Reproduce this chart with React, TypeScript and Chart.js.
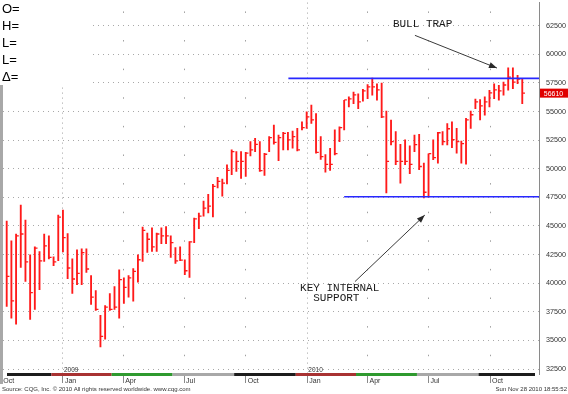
import React, { useEffect, useRef } from 'react';
import { Chart, registerables } from 'chart.js';

Chart.register(...registerables);

const FONT = '"Liberation Sans", Arial, sans-serif';
const MONO = '"Liberation Mono", "DejaVu Sans Mono", monospace';

// weekly bars, bar index 0 = week of this date
const ANCHOR = '2008-10-09';

const highs = [
  45430, 43700, 44300, 46820, 45520, 42480, 43170, 42770, 44300, 44130,
  42310, 45950, 46390, 44330, 42130, 42910, 43000, 43000, 40660, 39360,
  37190, 38050, 39100, 39700, 41180, 40480, 40660, 41270, 42480, 44910,
  44390, 44850, 44390, 44850, 44940, 44130, 43110, 43170, 42050, 43630,
  45690, 46130, 47170, 47770, 48640, 49250, 49100, 50350, 51650, 51500,
  51500, 51440, 52370, 52660, 52370, 51360, 52810, 53820, 52950, 53180,
  53180, 53300, 53530, 54110, 54980, 55560, 54830, 52810, 51250, 51790,
  53410, 53670, 55990, 56280, 56710, 56560, 56950, 57350, 57930, 57430,
  57490, 55040, 54260, 53240, 52140, 52520, 52000, 52950, 53010, 50490,
  51310, 52520, 53180, 53240, 53940, 54110, 53530, 52430, 54400, 55040,
  56080, 56040, 56280, 56860, 57430, 57290, 57580, 58820, 58820, 58160,
  57870,
];

const lows = [
  37970, 36950, 36410, 41380, 40160, 36840, 37710, 39440, 41900, 42130,
  41530, 41960, 42740, 40400, 39100, 39880, 39880, 40940, 38140, 37620,
  34440, 35100, 37620, 37710, 36950, 38230, 38780, 38430, 40080, 41900,
  42680, 42770, 42770, 43460, 43460, 42250, 41730, 41960, 40740, 40510,
  43550, 44760, 45860, 46150, 45800, 48320, 47600, 48670, 49480, 49770,
  49160, 49340, 51130, 51500, 49770, 49420, 51500, 52140, 50700, 51650,
  51650, 51790, 51570, 53390, 53530, 53960, 51360, 50810, 49710, 49860,
  51220, 52370, 53390, 55410, 55700, 55260, 55910, 56130, 56430, 55990,
  54460, 47890, 52090, 50350, 48750, 50350, 49570, 51500, 49920, 47450,
  47510, 50790, 50490, 52090, 52090, 51850, 51360, 50490, 50400, 53530,
  55260, 54260, 54690, 55410, 56130, 55990, 56430, 56860, 57000, 57430,
  55700,
];

const closes = [
  40600, 38460, 44130, 44300, 41870, 39180, 43060, 41960, 43260, 42250,
  41870, 45780, 43980, 41330, 40370, 40860, 42680, 41240, 38780, 37710,
  35360, 37910, 37710, 37910, 40310, 39640, 40460, 41030, 42050, 44620,
  43840, 43170, 44300, 44130, 44130, 43550, 41960, 42020, 41090, 43610,
  45630, 45860, 46560, 46730, 48470, 48900, 48750, 49860, 51500, 50640,
  50640, 51360, 51650, 52140, 49830, 51270, 52720, 52310, 52720, 53090,
  52520, 52810, 51650, 53590, 54540, 54280, 51440, 51070, 50380, 50380,
  51330, 53590, 56020, 56100, 56450, 55840, 56800, 57150, 57150, 56890,
  54540, 50640, 52370, 50640, 50640, 50640, 50380, 52110, 50200, 47950,
  51330, 50980, 53150, 52370, 53500, 52550, 52370, 52200, 54280, 54720,
  55840, 55500, 55840, 56630, 56890, 56800, 57320, 58010, 57580, 57840,
  56610,
];

const priceTicks = [32500, 35000, 37500, 40000, 42500, 45000, 47500, 50000, 52500, 55000, 57500, 60000, 62500];
const quarterLabels = ['Oct', 'Jan', 'Apr', 'Jul', 'Oct', 'Jan', 'Apr', 'Jul', 'Oct'];
const quarterDates = ['2008-10-01', '2009-01-01', '2009-04-01', '2009-07-01', '2009-10-01', '2010-01-01', '2010-04-01', '2010-07-01', '2010-10-01'];
const yearLabels = ['2009', '2010'];
const yearDates = ['2009-01-01', '2010-01-01'];
const infoLabels = ['O=', 'H=', 'L=', 'L=', '\u0394='];

const resistanceLevel = 57900;
const resistanceFromWeek = 60.1;
const supportLevel = 47550;
const supportFromWeek = 72.0;
const lastPrice = 56610;

// annotation anchors in (week, price)
const noteTexts = ['BULL TRAP', 'KEY INTERNAL', 'SUPPORT'];
const noteWeeks = [82.4, 62.6, 65.4];
const notePrices = [62610, 39570, 38660];
const arrowFromWeeks = [87.1, 74.3];
const arrowFromPrices = [61660, 40140];
const arrowToWeeks = [104.6, 89.2];
const arrowToPrices = [58800, 45950];

const SOURCE_TEXT = 'Source: CQG, Inc. \u00A9 2010 All rights reserved worldwide. www.cqg.com';
const STAMP_TEXT = 'Sun Nov 28 2010 18:55:52';

const X_MIN = -0.79;
const X_MAX = 113.57;
const Y_MIN = 32066;
const Y_MAX = 64522;
const STRIP_SHIFT = 2.47;

const weekOf = (d: string) => (Date.parse(d) - Date.parse(ANCHOR)) / (7 * 86400000);

export default function App() {
  const ref = useRef<HTMLCanvasElement>(null);

  useEffect(() => {
    const canvas = ref.current as HTMLCanvasElement;
    const quarterWeeks = quarterDates.map(weekOf);
    const yearWeeks = yearDates.map(weekOf);
    const isYearTick = (i: number) => quarterLabels[i] === 'Jan';

    const drawArrow = (ctx: CanvasRenderingContext2D, x1: number, y1: number, x2: number, y2: number) => {
      ctx.save();
      ctx.strokeStyle = '#3a3a3a';
      ctx.fillStyle = '#2a2a2a';
      ctx.lineWidth = 1;
      ctx.beginPath();
      ctx.moveTo(x1, y1);
      ctx.lineTo(x2, y2);
      ctx.stroke();
      const a = Math.atan2(y2 - y1, x2 - x1);
      const L = 8;
      const W = 3;
      const c = Math.cos(a);
      const s = Math.sin(a);
      ctx.beginPath();
      ctx.moveTo(x2, y2);
      ctx.lineTo(x2 - L * c + W * s, y2 - L * s - W * c);
      ctx.lineTo(x2 - L * c - W * s, y2 - L * s + W * c);
      ctx.closePath();
      ctx.fill();
      ctx.restore();
    };

    const decor = {
      id: 'decor',
      beforeDatasetsDraw(chart: any) {
        const ctx = chart.ctx as CanvasRenderingContext2D;
        ctx.save();
        ctx.fillStyle = '#ffffff';
        ctx.fillRect(0, 0, 90, 85);
        ctx.restore();
      },
      afterDraw(chart: any) {
        const ctx = chart.ctx as CanvasRenderingContext2D;
        const xs = chart.scales.x;
        const ys = chart.scales.y;
        const area = chart.chartArea;
        ctx.save();

        // info labels
        ctx.fillStyle = '#000';
        ctx.font = `13px ${FONT}`;
        ctx.textBaseline = 'middle';
        ctx.textAlign = 'left';
        infoLabels.forEach((t, i) => ctx.fillText(t, 2, 9 + i * 17));

        // left frame
        ctx.fillStyle = '#a8a8a8';
        ctx.fillRect(0, 85, 3, area.bottom + 10 - 85);

        // quarter colour strip
        const stripColors: Record<string, string> = { Oct: '#1c1c1c', Jan: '#a83232', Apr: '#2f9a2f', Jul: '#a8a8a8' };
        quarterWeeks.forEach((w, i) => {
          const s = Math.max(xs.getPixelForValue(w - STRIP_SHIFT), area.left + 4);
          const eW = i + 1 < quarterWeeks.length ? quarterWeeks[i + 1] - STRIP_SHIFT : X_MAX;
          const e = Math.min(xs.getPixelForValue(eW), area.right - 4);
          if (e > s) {
            ctx.fillStyle = stripColors[quarterLabels[i]];
            ctx.fillRect(s, area.bottom - 1, e - s, 3);
          }
        });

        // year labels
        ctx.fillStyle = '#333';
        ctx.font = `6.5px ${FONT}`;
        ctx.textBaseline = 'bottom';
        yearWeeks.forEach((w, i) => ctx.fillText(yearLabels[i], xs.getPixelForValue(w) + 1, area.bottom - 1));

        // annotations
        ctx.fillStyle = '#1a1a1a';
        ctx.font = `11px ${MONO}`;
        ctx.textBaseline = 'middle';
        noteTexts.forEach((t, i) => ctx.fillText(t, xs.getPixelForValue(noteWeeks[i]), ys.getPixelForValue(notePrices[i])));
        arrowFromWeeks.forEach((w, i) => {
          drawArrow(
            ctx,
            xs.getPixelForValue(w),
            ys.getPixelForValue(arrowFromPrices[i]),
            xs.getPixelForValue(arrowToWeeks[i]),
            ys.getPixelForValue(arrowToPrices[i])
          );
        });

        // last price box
        const py = ys.getPixelForValue(lastPrice);
        ctx.fillStyle = '#e00000';
        ctx.fillRect(area.right + 1, py - 4.5, 567 - area.right, 9);
        ctx.fillStyle = '#ffffff';
        ctx.font = `7px ${FONT}`;
        ctx.textAlign = 'center';
        ctx.textBaseline = 'middle';
        ctx.fillText(String(lastPrice), (area.right + 568) / 2, py + 0.5);

        // footer
        ctx.fillStyle = '#333';
        ctx.font = `6px ${FONT}`;
        ctx.textAlign = 'left';
        ctx.fillText(SOURCE_TEXT, 2, 389);
        ctx.textAlign = 'right';
        ctx.fillText(STAMP_TEXT, 567, 389);
        ctx.restore();
      },
    };

    const yPeriod = (chart: any) => {
      const ys = chart.scales.y;
      return Math.abs(ys.getPixelForValue(priceTicks[0]) - ys.getPixelForValue(priceTicks[1]));
    };

    const chart = new Chart(canvas, {
      type: 'bar',
      data: {
        datasets: [
          {
            type: 'bar',
            data: highs.map((h, i) => ({ x: i, y: [lows[i], h] })) as any,
            backgroundColor: '#ff1a1a',
            barThickness: 1.2,
            borderWidth: 0,
            grouped: false,
            order: 3,
          } as any,
          {
            type: 'scatter',
            data: closes.map((c, i) => ({ x: i + 0.3, y: c })),
            pointStyle: 'line',
            pointRadius: 1.3,
            pointBorderWidth: 1.3,
            pointBorderColor: '#ff1a1a',
            borderColor: '#ff1a1a',
            pointHoverRadius: 0,
            order: 2,
          } as any,
          {
            type: 'line',
            data: [
              { x: resistanceFromWeek, y: resistanceLevel },
              { x: X_MAX, y: resistanceLevel },
            ],
            borderColor: '#2828ff',
            borderWidth: 1.6,
            pointRadius: 0,
            fill: false,
            order: 1,
          } as any,
          {
            type: 'line',
            data: [
              { x: supportFromWeek, y: supportLevel },
              { x: X_MAX, y: supportLevel },
            ],
            borderColor: '#2828ff',
            borderWidth: 1.6,
            pointRadius: 0,
            fill: false,
            order: 1,
          } as any,
        ],
      },
      options: {
        animation: false,
        responsive: false,
        events: [],
        layout: { padding: { left: 3, top: 0, right: 0, bottom: 0 } },
        plugins: { legend: { display: false }, tooltip: { enabled: false } },
        scales: {
          x: {
            type: 'linear',
            min: X_MIN,
            max: X_MAX,
            offset: false,
            afterBuildTicks: (s: any) => {
              s.ticks = quarterWeeks.map((w) => ({ value: w }));
            },
            afterFit: (s: any) => {
              s.height = 20;
              s.paddingLeft = 0;
              s.paddingRight = 0;
            },
            ticks: {
              autoSkip: false,
              maxRotation: 0,
              minRotation: 0,
              align: 'start',
              padding: -6,
              color: '#333',
              font: { size: 7, family: FONT },
              callback: (_v: any, i: number) => ' ' + quarterLabels[i],
            },
            grid: {
              offset: false,
              color: '#a0a0a0',
              lineWidth: 1,
              drawTicks: true,
              tickLength: 9,
              tickColor: '#8a8a8a',
              tickWidth: 1,
              tickBorderDash: [],
            },
            border: {
              display: false,
              dash: (c: any) => {
                if (c.type !== 'tick') return [];
                if (isYearTick(c.index)) return [1, 4];
                const p = yPeriod(c.chart);
                return [1.5, p - 1.5];
              },
              dashOffset: (c: any) => {
                if (c.type !== 'tick' || isYearTick(c.index)) return 0;
                const p = yPeriod(c.chart);
                const ys = c.chart.scales.y;
                const mid = (ys.getPixelForValue(priceTicks[priceTicks.length - 1]) + ys.getPixelForValue(priceTicks[priceTicks.length - 2])) / 2;
                const s0 = (((mid - c.chart.chartArea.top) % p) + p) % p;
                return p - s0;
              },
            },
          } as any,
          y: {
            type: 'linear',
            position: 'right',
            min: Y_MIN,
            max: Y_MAX,
            afterBuildTicks: (s: any) => {
              s.ticks = priceTicks.map((v) => ({ value: v }));
            },
            afterFit: (s: any) => {
              s.width = 29;
              s.paddingTop = 0;
              s.paddingBottom = 0;
            },
            ticks: {
              padding: 7,
              color: '#333',
              font: { size: 7.2, family: FONT },
              callback: (v: any) => String(v),
            },
            grid: {
              color: '#a8a8a8',
              lineWidth: 1,
              drawTicks: false,
            },
            border: {
              display: true,
              color: '#8a8a8a',
              width: 1,
              dash: [1, 4],
            },
          } as any,
        },
      },
      plugins: [decor],
    } as any);

    return () => chart.destroy();
  }, []);

  return (
    <div style={{ position: 'absolute', left: 0, top: 0, width: 568, height: 394, background: '#fff' }}>
      <canvas ref={ref} width={568} height={394} style={{ display: 'block' }} />
    </div>
  );
}
